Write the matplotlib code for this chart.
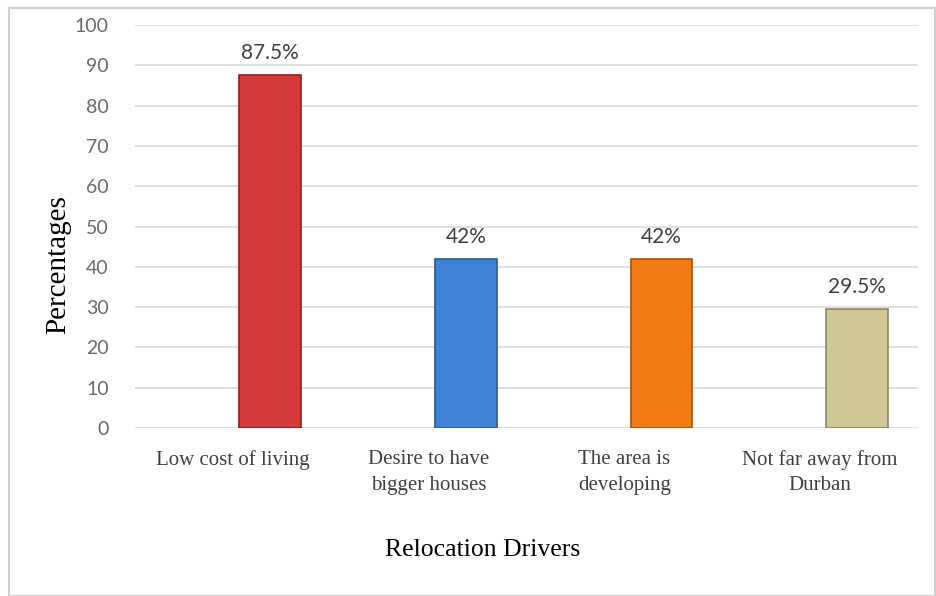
import matplotlib.pyplot as plt
from matplotlib.patches import Rectangle

categories = ["Low cost of living", "Desire to have\nbigger houses",
              "The area is\ndeveloping", "Not far away from\nDurban"]
values = [87.5, 42, 42, 29.5]
value_labels = ["87.5%", "42%", "42%", "29.5%"]
colors = ["#d43a3a", "#3f82d6", "#f27a12", "#cfc795"]
edges = ["#8e1f1f", "#2a5a9a", "#a8520a", "#8d8760"]

W, H = 936, 596
fig = plt.figure(figsize=(W / 100, H / 100), dpi=100)

# outer chart frame
fig.patches.append(Rectangle((9 / W, 0), (W - 10) / W, (H - 8) / H,
                             transform=fig.transFigure, fill=False,
                             edgecolor="#d0d0d0", linewidth=1.5))

ax = fig.add_axes([135 / W, 1 - 428 / H, (918 - 135) / W, (428 - 25) / H])

x = list(range(len(categories)))
offset = 0.19
ax.bar([i + offset for i in x], values, width=0.315, color=colors,
       edgecolor=edges, linewidth=1.2, zorder=3)

for i, (v, lab) in enumerate(zip(values, value_labels)):
    ax.text(i + offset, v + 3.0, lab, ha="center", va="bottom",
            fontsize=15, color="#404040", family="Lato")

ax.set_xlim(-0.5, 3.5)
ax.set_ylim(0, 100)
ax.set_yticks(range(0, 101, 10))
ax.set_yticklabels([str(t) for t in range(0, 101, 10)], family="Lato",
                   fontsize=14, color="#6a6a6a")
ax.set_xticks(x)
ax.set_xticklabels(categories, family="Liberation Serif", fontsize=15,
                   color="#404040", linespacing=1.45)
ax.tick_params(axis="both", length=0)
ax.tick_params(axis="y", pad=19)
ax.tick_params(axis="x", pad=16)
ax.grid(axis="y", color="#d9d9d9", linewidth=1.2, zorder=0)
for s in ax.spines.values():
    s.set_visible(False)

fig.text(58 / W, 1 - 265 / H, "Percentages", rotation=90, ha="center",
         va="center", family="Liberation Serif", fontsize=21)
fig.text(483 / W, 1 - 550 / H, "Relocation Drivers", ha="center",
         va="center", family="Liberation Serif", fontsize=18.5)

fig.savefig("out.png", dpi=100)
